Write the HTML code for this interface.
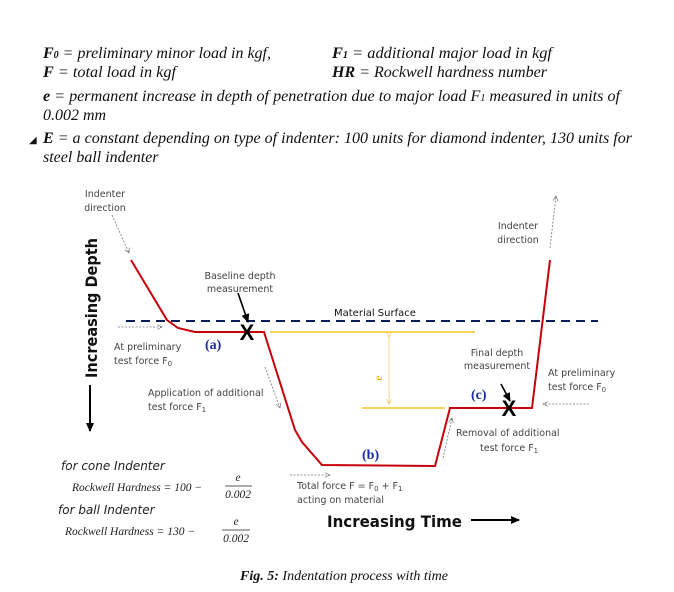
<!DOCTYPE html>
<html><head><meta charset="utf-8"><style>
html,body{margin:0;padding:0;background:#fff;}
svg{display:block}
.t{font-family:"Liberation Serif",serif;font-style:italic;font-size:16px;fill:#111}
.g{font-family:"DejaVu Sans","Liberation Sans",sans-serif;font-size:9.5px;fill:#444}
.lab{font-family:"Liberation Serif",serif;font-weight:bold;font-size:14px;fill:#1a2a9a}
.f{font-family:"Liberation Serif",serif;font-style:italic;font-size:11.5px;fill:#222}
.s{font-family:"DejaVu Sans",sans-serif;font-style:italic;font-size:12px;fill:#222}
</style></head><body>
<svg width="674" height="592" viewBox="0 0 674 592" xmlns="http://www.w3.org/2000/svg">
<defs>
<marker id="o" markerWidth="8" markerHeight="8" refX="7" refY="4" orient="auto"><path d="M1,1 L7,4 L1,7" fill="none" stroke="#666" stroke-width="0.8"/></marker>
<marker id="b" markerUnits="userSpaceOnUse" markerWidth="10" markerHeight="10" refX="8" refY="4" orient="auto"><path d="M0,0 L9,4 L0,8 z" fill="#000"/></marker>
<marker id="y" markerWidth="8" markerHeight="8" refX="7" refY="4" orient="auto"><path d="M1,1 L7,4 L1,7" fill="none" stroke="#f5c040" stroke-width="0.8"/></marker>
</defs>
<text class="t" x="43" y="58" textLength="228" lengthAdjust="spacingAndGlyphs"><tspan font-weight="bold">F<tspan font-size="10">0</tspan></tspan> = preliminary minor load in kgf,</text>
<text class="t" x="332" y="58" textLength="220" lengthAdjust="spacingAndGlyphs"><tspan font-weight="bold">F<tspan font-size="10">1</tspan></tspan> =  additional major load in kgf</text>
<text class="t" x="43" y="77" textLength="133" lengthAdjust="spacingAndGlyphs"><tspan font-weight="bold">F</tspan> = total load in kgf</text>
<text class="t" x="332" y="77" textLength="215" lengthAdjust="spacingAndGlyphs"><tspan font-weight="bold">HR</tspan> = Rockwell hardness number</text>
<text class="t" x="43" y="101" textLength="577" lengthAdjust="spacingAndGlyphs"><tspan font-weight="bold">e</tspan> = permanent increase in depth of penetration due to major load F<tspan font-size="10">1</tspan> measured in units of</text>
<text class="t" x="43" y="120">0.002 mm</text>
<text x="29" y="143" font-size="10" fill="#111">◢</text>
<text class="t" x="43" y="143" textLength="589" lengthAdjust="spacingAndGlyphs"><tspan font-weight="bold">E</tspan> = a constant depending on type of indenter: 100 units for diamond indenter, 130 units for</text>
<text class="t" x="43" y="162">steel ball indenter</text>

<line x1="126" y1="321" x2="598" y2="321" stroke="#0a1f5a" stroke-width="2" stroke-dasharray="9,6"/>
<text x="334" y="316" font-family="DejaVu Sans,sans-serif" font-size="10" fill="#111">Material Surface</text>
<line x1="270" y1="332" x2="475" y2="332" stroke="#f5b800" stroke-width="1.3"/>
<line x1="362" y1="408" x2="445" y2="408" stroke="#f5b800" stroke-width="1.3"/>
<line x1="389" y1="337" x2="389" y2="404" stroke="#f8d070" stroke-width="0.8" marker-start="url(#y)" marker-end="url(#y)"/>
<text x="382" y="378" font-family="Liberation Serif,serif" font-size="12" fill="#e0a000" transform="rotate(-90 382 378)" text-anchor="middle">e</text>
<polyline points="131,260 167,320 178,328 195,332 264,332 295,430 302,442 322,465 435,466 450,408 532,408 550,260" fill="none" stroke="#c8000a" stroke-width="2"/>
<line x1="238" y1="293" x2="248" y2="322" stroke="#000" stroke-width="1.6" marker-end="url(#b)"/>
<line x1="501" y1="384" x2="510" y2="401" stroke="#000" stroke-width="1.6" marker-end="url(#b)"/>
<text x="247" y="340" font-family="Liberation Sans,sans-serif" font-weight="bold" font-size="22" text-anchor="middle">X</text>
<text x="509" y="416" font-family="Liberation Sans,sans-serif" font-weight="bold" font-size="22" text-anchor="middle">X</text>

<g stroke="#777" stroke-width="0.8" stroke-dasharray="2,1.5" fill="none">
<line x1="112" y1="215" x2="129" y2="253" marker-end="url(#o)"/>
<line x1="118" y1="327" x2="162" y2="327" marker-end="url(#o)"/>
<line x1="265" y1="367" x2="280" y2="408" marker-end="url(#o)"/>
<line x1="290" y1="475" x2="330" y2="475" marker-end="url(#o)"/>
<line x1="443" y1="458" x2="452" y2="418" marker-end="url(#o)"/>
<line x1="589" y1="404" x2="543" y2="404" marker-end="url(#o)"/>
<line x1="550" y1="248" x2="556" y2="196" marker-end="url(#o)"/>
</g>

<text class="g" x="105" y="197" text-anchor="middle">Indenter</text>
<text class="g" x="105" y="211" text-anchor="middle">direction</text>
<text class="g" x="240" y="279" text-anchor="middle">Baseline depth</text>
<text class="g" x="240" y="292" text-anchor="middle">measurement</text>
<text class="g" x="114" y="350">At preliminary</text>
<text class="g" x="114" y="364">test force F<tspan font-size="7" dy="2">0</tspan></text>
<text class="g" x="148" y="396">Application of additional</text>
<text class="g" x="148" y="410">test force F<tspan font-size="7" dy="2">1</tspan></text>
<text class="g" x="297" y="489">Total force F = F<tspan font-size="7" dy="2">0</tspan><tspan dy="-2"> + F</tspan><tspan font-size="7" dy="2">1</tspan></text>
<text class="g" x="297" y="503">acting on material</text>
<text class="g" x="518" y="229" text-anchor="middle">Indenter</text>
<text class="g" x="518" y="243" text-anchor="middle">direction</text>
<text class="g" x="497" y="356" text-anchor="middle">Final depth</text>
<text class="g" x="497" y="369" text-anchor="middle">measurement</text>
<text class="g" x="548" y="376">At preliminary</text>
<text class="g" x="548" y="390">test force F<tspan font-size="7" dy="2">0</tspan></text>
<text class="g" x="456" y="436">Removal of additional</text>
<text class="g" x="480" y="451">test force F<tspan font-size="7" dy="2">1</tspan></text>

<text class="lab" x="205" y="349">(a)</text>
<text class="lab" x="362" y="459">(b)</text>
<text class="lab" x="471" y="399">(c)</text>

<text x="0" y="0" font-family="DejaVu Sans,sans-serif" font-weight="bold" font-size="16" fill="#111" transform="translate(97 308) rotate(-90)" text-anchor="middle" textLength="140" lengthAdjust="spacingAndGlyphs">Increasing Depth</text>
<line x1="90" y1="385" x2="90" y2="431" stroke="#000" stroke-width="2" marker-end="url(#b)"/>
<text x="327" y="527" font-family="DejaVu Sans,sans-serif" font-weight="bold" font-size="16" fill="#111" textLength="135" lengthAdjust="spacingAndGlyphs">Increasing Time</text>
<line x1="471" y1="520" x2="519" y2="520" stroke="#000" stroke-width="2" marker-end="url(#b)"/>

<text class="s" x="61" y="470">for cone Indenter</text>
<text class="f" x="72" y="491">Rockwell Hardness = 100 −</text>
<text class="f" x="238" y="481" text-anchor="middle">e</text>
<line x1="225" y1="486" x2="252" y2="486" stroke="#222" stroke-width="0.8"/>
<text class="f" x="238" y="498" text-anchor="middle" font-style="normal">0.002</text>
<text class="s" x="58" y="514">for ball Indenter</text>
<text class="f" x="65" y="535">Rockwell Hardness = 130 −</text>
<text class="f" x="236" y="525" text-anchor="middle">e</text>
<line x1="222" y1="530" x2="250" y2="530" stroke="#222" stroke-width="0.8"/>
<text class="f" x="236" y="542" text-anchor="middle" font-style="normal">0.002</text>

<text x="344" y="580" text-anchor="middle" font-family="Liberation Serif,serif" font-style="italic" font-size="14" fill="#111"><tspan font-weight="bold">Fig. 5:</tspan> Indentation process with time</text>
</svg>
</body></html>
